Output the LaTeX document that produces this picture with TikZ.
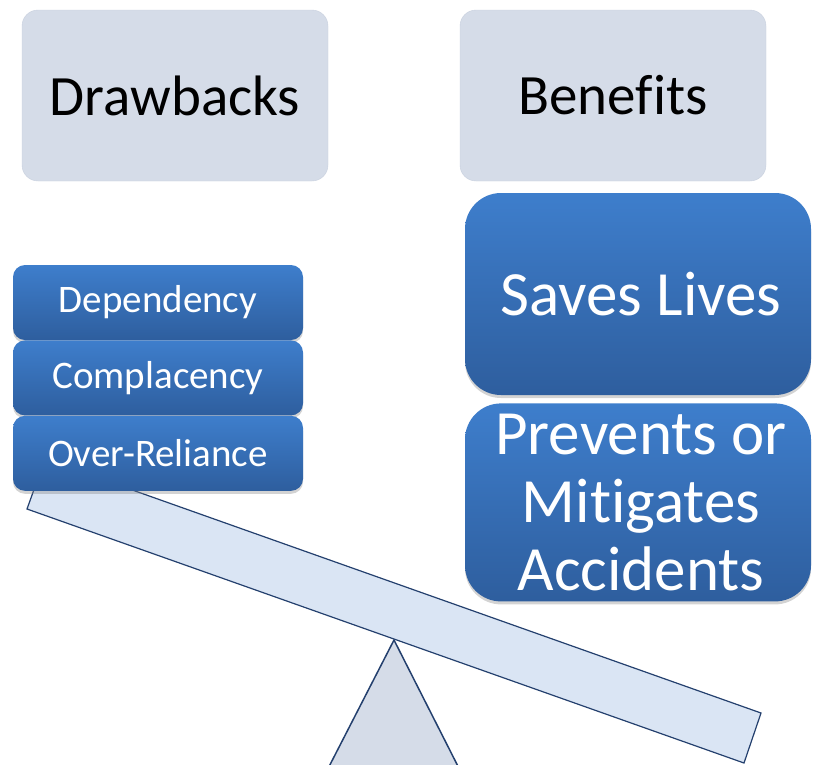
\documentclass[tikz,border=0pt]{standalone}
\usepackage{fontspec}
\setmainfont{Carlito}[Ligatures=NoCommon]
\usetikzlibrary{positioning, shadows}
\definecolor{headfill}{RGB}{213,220,232}
\definecolor{headline}{RGB}{200,208,222}
\definecolor{boxtop}{RGB}{62,126,204}
\definecolor{boxbot}{RGB}{46,94,158}
\definecolor{beamfill}{RGB}{218,229,244}
\definecolor{beamline}{RGB}{36,64,110}
\definecolor{pivotfill}{RGB}{213,220,232}
\tikzset{
  header/.style={rectangle, draw=headline, fill=headfill, rounded corners=16pt,
                 minimum width=306pt, minimum height=171pt, inner sep=0pt,
                 font=\fontsize{57}{68}\selectfont},
  con/.style={rectangle, rounded corners=12pt, top color=boxtop, bottom color=boxbot,
              text=white, minimum width=290pt, minimum height=75pt, inner sep=0pt,
              font=\fontsize{39}{46}\selectfont,
              drop shadow={opacity=0.35, shadow xshift=0pt, shadow yshift=-3pt}},
  pro/.style={con, rounded corners=36pt, minimum width=346pt, minimum height=200pt,
              align=center, font=\fontsize{63}{68}\selectfont},
  beam/.style={draw=beamline, fill=beamfill, line width=1.2pt, line join=miter},
  pivot/.style={draw=beamline, fill=pivotfill, line width=1.5pt}
}

\begin{document}
\begin{tikzpicture}[x=1pt, y=-1pt]
\useasboundingbox (0,0) rectangle (813,764);
\clip (0,0) rectangle (813,764);

% Seesaw: pivot and tilted beam
\draw[pivot] (394,640) -- (317,790) -- (470,790) -- cycle;
\draw[beam] (45,459) -- (761,713) -- (744,763) -- (27,509) -- cycle;

% Row 1: headers
\node[header] (drawbacks) at (175,95.5) {Drawbacks};
\node[header] (benefits) at (613,95.5) {Benefits};

% Left pan: stacked drawbacks
\node[con] (dep) at (158,302.5) {Dependency};
\node[con, below=0pt of dep] (comp) {Complacency};
\node[con, below=0pt of comp] (over) {Over-Reliance};

% Right pan: benefits
\node[pro, minimum height=202pt] (lives) at (638,294) {\hspace*{6pt}Saves Lives};
\node[pro, minimum height=198pt, below=8pt of lives] (prevent) {\hspace*{6pt}Prevents or\\\hspace*{6pt}Mitigates\\\hspace*{6pt}Accidents};

\end{tikzpicture}
\end{document}
